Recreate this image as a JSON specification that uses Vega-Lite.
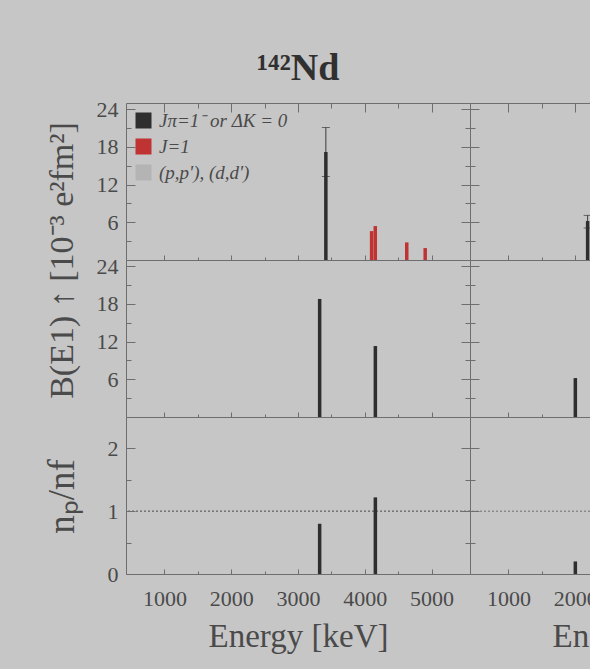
{
  "$schema": "https://vega.github.io/schema/vega-lite/v6.json",
  "background": "#c6c6c6",
  "padding": {"left": 42, "top": 49, "right": 0, "bottom": 30},
  "title": {
    "text": "¹⁴²Nd",
    "font": "Liberation Serif",
    "fontSize": 38,
    "fontWeight": "bold",
    "color": "#303030",
    "anchor": "start",
    "align": "center",
    "dx": 172,
    "offset": 10,
    "frame": "group"
  },
  "datasets": {
    "r1L": [
      {"E": 3417, "B": 17.2, "lo": 13.3, "hi": 21.1, "kind": "Jπ=1⁻ or ΔK = 0"},
      {"E": 4102, "B": 4.6, "kind": "J=1"},
      {"E": 4157, "B": 5.4, "kind": "J=1"},
      {"E": 4628, "B": 2.8, "kind": "J=1"},
      {"E": 4904, "B": 1.9, "kind": "J=1"}
    ],
    "r1R": [{"E": 2186, "B": 6.2, "lo": 5.1, "hi": 7.1}],
    "r2L": [{"E": 3324, "B": 18.8}, {"E": 4158, "B": 11.3}],
    "r2R": [{"E": 2002, "B": 6.2}],
    "r3L": [{"E": 3324, "R": 0.8}, {"E": 4158, "R": 1.22}],
    "r3R": [{"E": 2002, "R": 0.2}]
  },
  "columns": 2,
  "spacing": 0,
  "bounds": "flush",
  "resolve": {"scale": {"color": "independent"}},
  "config": {
    "view": {"stroke": "#6e6e6e", "strokeWidth": 1},
    "axis": {
      "grid": false,
      "domain": false,
      "tickColor": "#6e6e6e",
      "tickWidth": 1,
      "labelFont": "Liberation Serif",
      "labelFontSize": 22,
      "labelColor": "#4a4a4a",
      "titleFont": "Liberation Serif",
      "titleColor": "#4a4a4a",
      "titleFontWeight": "normal",
      "titleFontSize": 30
    },
    "bar": {"color": "#2e2e2e"}
  },
  "concat": [
    {
      "width": 344,
      "height": 157,
      "data": {"name": "r1L"},
      "resolve": {"axis": {"x": "independent", "y": "independent"}},
      "layer": [
        {
          "transform": [{"filter": "isValid(datum.lo)"}],
          "mark": {"type": "errorbar", "color": "#3a3a3a", "thickness": 1, "ticks": {"size": 8, "thickness": 1}},
          "encoding": {
            "x": {"field": "E", "type": "quantitative", "scale": {"domain": [500, 5500], "nice": false, "zero": false}, "axis": null},
            "y": {"field": "lo", "type": "quantitative", "scale": {"domain": [0, 25], "nice": false}, "axis": null},
            "y2": {"field": "hi"}
          }
        },
        {
          "mark": {"type": "bar", "size": 3.5},
          "encoding": {
            "x": {"field": "E", "type": "quantitative", "scale": {"domain": [500, 5500], "nice": false, "zero": false},
              "axis": {"orient": "bottom", "values": [1000, 1500, 2000, 2500, 3000, 3500, 4000, 4500, 5000], "labels": false, "title": null,
                "tickSize": {"condition": {"test": "datum.value % 1000 === 0", "value": -5}, "value": -3}}},
            "y": {"field": "B", "type": "quantitative", "scale": {"domain": [0, 25], "nice": false},
              "axis": {"orient": "left", "values": [3, 6, 9, 12, 15, 18, 21, 24],
                "tickSize": {"condition": {"test": "datum.value % 6 === 0", "value": -9}, "value": -5},
                "labelExpr": "datum.value % 6 === 0 ? datum.label : ''", "labelPadding": 17,
                "title": "B(E1) ↑ [10⁻³ e²fm²]", "titleFontSize": 34, "titleX": -64, "titleY": 157, "titleAngle": -90,
                "titleAlign": "center", "titleBaseline": "middle"}},
            "color": {"field": "kind", "type": "nominal",
              "scale": {"domain": ["Jπ=1⁻ or ΔK = 0", "J=1", "(p,p'), (d,d')"], "range": ["#2e2e2e", "#c03333", "#b4b4b4"]},
              "legend": {"orient": "top-left", "title": null, "symbolType": "square", "symbolSize": 256,
                "symbolStrokeWidth": 0, "labelFont": "Liberation Serif", "labelFontSize": 19, "labelFontStyle": "italic",
                "labelColor": "#4a4a4a", "labelOffset": 6, "rowPadding": 6, "offset": 8, "padding": 0, "labelLimit": 300}}
          }
        },
        {
          "mark": {"type": "point", "opacity": 0},
          "encoding": {
            "x": {"field": "E", "type": "quantitative",
              "axis": {"orient": "top", "values": [1000, 1500, 2000, 2500, 3000, 3500, 4000, 4500, 5000], "labels": false, "title": null,
                "tickSize": {"condition": {"test": "datum.value % 1000 === 0", "value": -9}, "value": -5}}},
            "y": {"field": "B", "type": "quantitative",
              "axis": {"orient": "right", "values": [3, 6, 9, 12, 15, 18, 21, 24], "labels": false, "title": null,
                "tickSize": {"condition": {"test": "datum.value % 6 === 0", "value": -9}, "value": -5}}}
          }
        }
      ]
    },
    {
      "width": 344,
      "height": 157,
      "data": {"name": "r1R"},
      "resolve": {"axis": {"x": "independent", "y": "independent"}},
      "layer": [
        {
          "mark": {"type": "errorbar", "color": "#3a3a3a", "thickness": 1, "ticks": {"size": 8, "thickness": 1}},
          "encoding": {
            "x": {"field": "E", "type": "quantitative", "scale": {"domain": [500, 5500], "nice": false, "zero": false}, "axis": null},
            "y": {"field": "lo", "type": "quantitative", "scale": {"domain": [0, 25], "nice": false}, "axis": null},
            "y2": {"field": "hi"}
          }
        },
        {
          "mark": {"type": "bar", "size": 3.5},
          "encoding": {
            "x": {"field": "E", "type": "quantitative", "scale": {"domain": [500, 5500], "nice": false, "zero": false},
              "axis": {"orient": "bottom", "values": [1000, 1500, 2000, 2500, 3000, 3500, 4000, 4500, 5000], "labels": false, "title": null,
                "tickSize": {"condition": {"test": "datum.value % 1000 === 0", "value": -5}, "value": -3}}},
            "y": {"field": "B", "type": "quantitative", "scale": {"domain": [0, 25], "nice": false},
              "axis": {"orient": "left", "values": [3, 6, 9, 12, 15, 18, 21, 24], "labels": false, "title": null,
                "tickSize": {"condition": {"test": "datum.value % 6 === 0", "value": -9}, "value": -5}}}
          }
        },
        {
          "mark": {"type": "point", "opacity": 0},
          "encoding": {
            "x": {"field": "E", "type": "quantitative",
              "axis": {"orient": "top", "values": [1000, 1500, 2000, 2500, 3000, 3500, 4000, 4500, 5000], "labels": false, "title": null,
                "tickSize": {"condition": {"test": "datum.value % 1000 === 0", "value": -9}, "value": -5}}},
            "y": {"field": "B", "type": "quantitative",
              "axis": {"orient": "right", "values": [3, 6, 9, 12, 15, 18, 21, 24], "labels": false, "title": null,
                "tickSize": {"condition": {"test": "datum.value % 6 === 0", "value": -9}, "value": -5}}}
          }
        }
      ]
    },
    {
      "width": 344,
      "height": 157,
      "data": {"name": "r2L"},
      "resolve": {"axis": {"x": "independent", "y": "independent"}},
      "layer": [
        {
          "mark": {"type": "bar", "size": 3.5},
          "encoding": {
            "x": {"field": "E", "type": "quantitative", "scale": {"domain": [500, 5500], "nice": false, "zero": false},
              "axis": {"orient": "bottom", "values": [1000, 1500, 2000, 2500, 3000, 3500, 4000, 4500, 5000], "labels": false, "title": null,
                "tickSize": {"condition": {"test": "datum.value % 1000 === 0", "value": -5}, "value": -3}}},
            "y": {"field": "B", "type": "quantitative", "scale": {"domain": [0, 25], "nice": false},
              "axis": {"orient": "left", "values": [3, 6, 9, 12, 15, 18, 21, 24],
                "tickSize": {"condition": {"test": "datum.value % 6 === 0", "value": -9}, "value": -5},
                "labelExpr": "datum.value % 6 === 0 ? datum.label : ''", "labelPadding": 17, "title": null}}
          }
        },
        {
          "mark": {"type": "point", "opacity": 0},
          "encoding": {
            "x": {"field": "E", "type": "quantitative", "axis": null},
            "y": {"field": "B", "type": "quantitative",
              "axis": {"orient": "right", "values": [3, 6, 9, 12, 15, 18, 21, 24], "labels": false, "title": null,
                "tickSize": {"condition": {"test": "datum.value % 6 === 0", "value": -9}, "value": -5}}}
          }
        }
      ]
    },
    {
      "width": 344,
      "height": 157,
      "data": {"name": "r2R"},
      "resolve": {"axis": {"x": "independent", "y": "independent"}},
      "layer": [
        {
          "mark": {"type": "bar", "size": 3.5},
          "encoding": {
            "x": {"field": "E", "type": "quantitative", "scale": {"domain": [500, 5500], "nice": false, "zero": false},
              "axis": {"orient": "bottom", "values": [1000, 1500, 2000, 2500, 3000, 3500, 4000, 4500, 5000], "labels": false, "title": null,
                "tickSize": {"condition": {"test": "datum.value % 1000 === 0", "value": -5}, "value": -3}}},
            "y": {"field": "B", "type": "quantitative", "scale": {"domain": [0, 25], "nice": false},
              "axis": {"orient": "left", "values": [3, 6, 9, 12, 15, 18, 21, 24], "labels": false, "title": null,
                "tickSize": {"condition": {"test": "datum.value % 6 === 0", "value": -9}, "value": -5}}}
          }
        },
        {
          "mark": {"type": "point", "opacity": 0},
          "encoding": {
            "x": {"field": "E", "type": "quantitative", "axis": null},
            "y": {"field": "B", "type": "quantitative",
              "axis": {"orient": "right", "values": [3, 6, 9, 12, 15, 18, 21, 24], "labels": false, "title": null,
                "tickSize": {"condition": {"test": "datum.value % 6 === 0", "value": -9}, "value": -5}}}
          }
        }
      ]
    },
    {
      "width": 344,
      "height": 157,
      "data": {"name": "r3L"},
      "resolve": {"axis": {"x": "independent", "y": "independent"}},
      "layer": [
        {
          "mark": {"type": "rule", "color": "#6e6e6e", "strokeWidth": 1, "strokeDash": [2, 2]},
          "encoding": {"y": {"datum": 1, "type": "quantitative", "axis": null}}
        },
        {
          "mark": {"type": "bar", "size": 3.5},
          "encoding": {
            "x": {"field": "E", "type": "quantitative", "scale": {"domain": [500, 5500], "nice": false, "zero": false},
              "axis": {"orient": "bottom", "values": [1000, 1500, 2000, 2500, 3000, 3500, 4000, 4500, 5000], "format": "d",
                "tickSize": {"condition": {"test": "datum.value % 1000 === 0", "value": -5}, "value": -3},
                "labelExpr": "datum.value % 1000 === 0 ? datum.label : ''", "labelPadding": 19,
                "title": "Energy [keV]", "titleFontSize": 33, "titlePadding": 11}},
            "y": {"field": "R", "type": "quantitative", "scale": {"domain": [0, 2.5], "nice": false},
              "axis": {"orient": "left", "values": [0, 0.5, 1, 1.5, 2], "format": "~g",
                "tickSize": {"condition": {"test": "datum.value % 1 === 0", "value": -9}, "value": -5},
                "labelExpr": "datum.value % 1 === 0 ? datum.label : ''", "labelPadding": 17,
                "title": "nₚ/nf", "titleFontSize": 37, "titleX": -64, "titleY": 79, "titleAngle": -90,
                "titleAlign": "center", "titleBaseline": "middle"}}
          }
        },
        {
          "mark": {"type": "point", "opacity": 0},
          "encoding": {
            "x": {"field": "E", "type": "quantitative", "axis": null},
            "y": {"field": "R", "type": "quantitative",
              "axis": {"orient": "right", "values": [0.5, 1, 1.5, 2], "labels": false, "title": null,
                "tickSize": {"condition": {"test": "datum.value % 1 === 0", "value": -9}, "value": -5}}}
          }
        }
      ]
    },
    {
      "width": 344,
      "height": 157,
      "data": {"name": "r3R"},
      "resolve": {"axis": {"x": "independent", "y": "independent"}},
      "layer": [
        {
          "mark": {"type": "rule", "color": "#6e6e6e", "strokeWidth": 1, "strokeDash": [2, 2]},
          "encoding": {"y": {"datum": 1, "type": "quantitative", "axis": null}}
        },
        {
          "mark": {"type": "bar", "size": 3.5},
          "encoding": {
            "x": {"field": "E", "type": "quantitative", "scale": {"domain": [500, 5500], "nice": false, "zero": false},
              "axis": {"orient": "bottom", "values": [1000, 1500, 2000, 2500, 3000, 3500, 4000, 4500, 5000], "format": "d",
                "tickSize": {"condition": {"test": "datum.value % 1000 === 0", "value": -5}, "value": -3},
                "labelExpr": "datum.value % 1000 === 0 ? datum.label : ''", "labelPadding": 19,
                "title": "Energy [keV]", "titleFontSize": 33, "titlePadding": 11}},
            "y": {"field": "R", "type": "quantitative", "scale": {"domain": [0, 2.5], "nice": false},
              "axis": {"orient": "left", "values": [0.5, 1, 1.5, 2], "labels": false, "title": null,
                "tickSize": {"condition": {"test": "datum.value % 1 === 0", "value": -9}, "value": -5}}}
          }
        },
        {
          "mark": {"type": "point", "opacity": 0},
          "encoding": {
            "x": {"field": "E", "type": "quantitative", "axis": null},
            "y": {"field": "R", "type": "quantitative",
              "axis": {"orient": "right", "values": [0.5, 1, 1.5, 2], "labels": false, "title": null,
                "tickSize": {"condition": {"test": "datum.value % 1 === 0", "value": -9}, "value": -5}}}
          }
        }
      ]
    }
  ]
}
